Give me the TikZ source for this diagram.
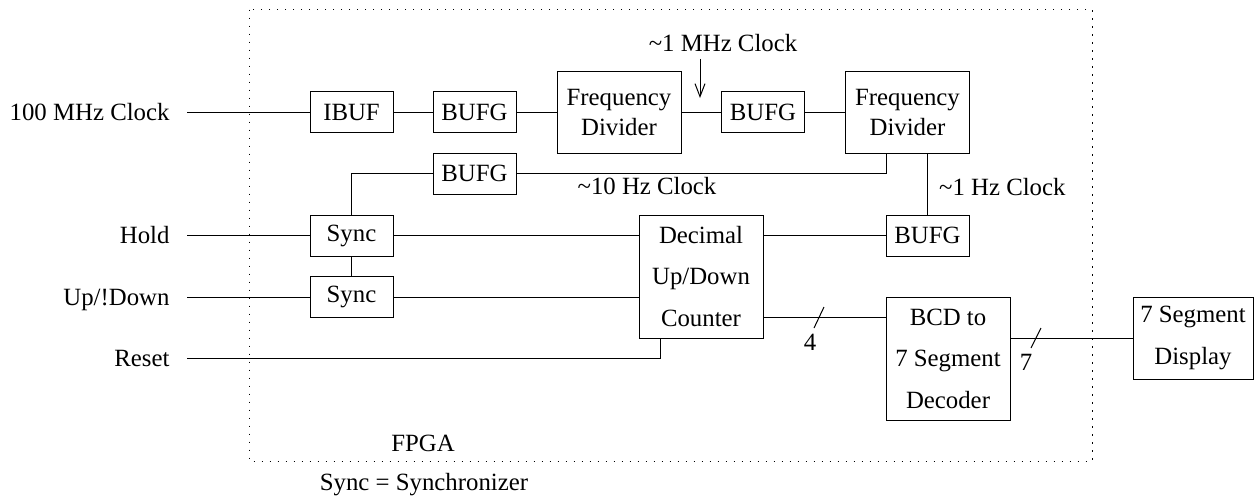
\documentclass[tikz,border=0pt]{standalone}
\usepackage{fontspec}
\setmainfont{Liberation Serif}
\usetikzlibrary{arrows.meta}
\tikzset{
  blk/.style={draw, inner sep=0pt, align=center},
  small/.style={blk, minimum width=41.5pt, minimum height=20.5pt},
  div/.style={blk, minimum width=62pt, minimum height=41pt},
  tall/.style={blk, minimum width=62pt, minimum height=61.5pt, font=\fontsize{12.4}{20.75}\selectfont},
  lbl/.style={anchor=east, inner xsep=8.5pt, inner ysep=0pt, text height=8.4pt, text depth=0pt}
}
\begin{document}
\begin{tikzpicture}[x=0.5pt, y=-0.5pt, line width=0.5pt, font=\fontsize{12.4}{15}\selectfont]
        \useasboundingbox (0,0) rectangle (1254,500);
        \draw[dash pattern=on 0.6pt off 3.4pt] (249,9.5) rectangle (1092,461);
        \node[small] (ibuf) at (351.5,112) {IBUF};
        \node[small] (bufgA) at (474.5,112) {BUFG};
        \node[div] (divA) at (619,112) {Frequency\\Divider};
        \node[small] (bufgB) at (763,112) {BUFG};
        \node[div] (divB) at (907.5,112) {Frequency\\Divider};
        \node[small] (bufgC) at (474.5,173.5) {BUFG};
        \node[small] (bufgD) at (927.5,235.5) {BUFG};
        \node[small] (syncA) at (351.5,235.5) {Sync};
        \node[small] (syncB) at (351.5,297) {Sync};
        \node[tall] (counter) at (701,276.5) {Decimal\\Up/Down\\Counter};
        \node[tall] (decoder) at (948,358.5) {BCD to\\7 Segment\\Decoder};
        \node[div, minimum width=60pt, font=\fontsize{12.4}{21}\selectfont] (display) at (1193,338) {7 Segment\\Display};
        \node[lbl] (clk) at (187,112) {100 MHz Clock};
        \node[lbl] (hold) at (187,235.5) {Hold};
        \node[lbl] (updn) at (187,297) {Up/!Down};
        \node[lbl] (rst) at (187,358.5) {Reset};
        \draw (clk.east) -- (ibuf.west) (ibuf.east) -- (bufgA.west) (bufgA.east) -- (divA.west) (divA.east) -- (bufgB.west) (bufgB.east) -- (divB.west);
        \node (mhz) at (723,43) {\textasciitilde 1 MHz Clock};
        \coordinate (mhzend) at (700,98);
        \draw[-{Straight Barb[length=6.5pt,width=5pt]}] (mhz.south -| mhzend) -- (mhzend);
        \draw (syncA.north) |- (bufgC.west);
        \draw (bufgC.east) -| ([xshift=-10.75pt]divB.south);
        \node (tenhz) at (647,186) {\textasciitilde 10 Hz Clock};
        \draw (bufgD.north) -- (bufgD.north |- divB.south);
        \node[anchor=west] (onehz) at (932,187) {\textasciitilde 1 Hz Clock};
        \draw (hold.east) -- (syncA.west);
        \draw (syncA.east) -- (syncA.east -| counter.west);
        \draw (syncA.south) -- (syncB.north);
        \draw (updn.east) -- (syncB.west);
        \draw (syncB.east) -- (syncB.east -| counter.west);
        \draw (counter.east |- bufgD.west) -- (bufgD.west);
        \draw (rst.east) -| ([xshift=-20.5pt]counter.south);
        \draw ([yshift=-20.25pt]counter.east) -- ([yshift=-20.25pt]counter.east -| decoder.west);
        \draw (814,328) -- (824,307);
        \node (four) at (810,342) {4};
        \draw (decoder.east |- display.west) -- (display.west);
        \draw (1031,348) -- (1041,328);
        \node (seven) at (1026,362) {7};
        \node (fpga) at (423,443) {FPGA};
        \node (legend) at (424,485) {Sync = Synchronizer};
    \end{tikzpicture}
\end{document}
